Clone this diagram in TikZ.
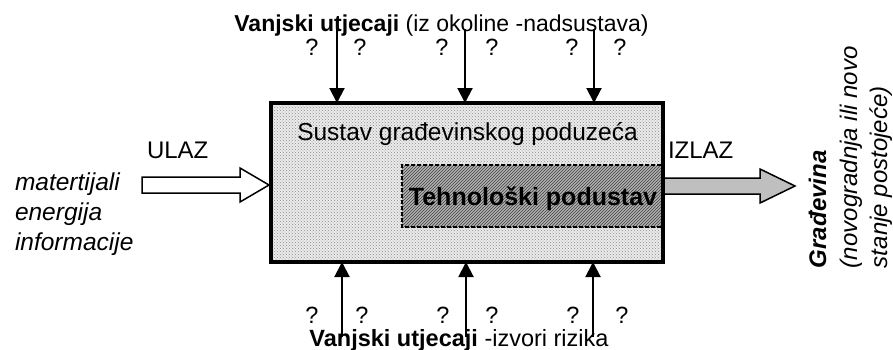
\documentclass[tikz,border=0pt]{standalone}
\usepackage{fontspec}
\setmainfont{Liberation Sans}
\usetikzlibrary{arrows.meta,patterns,calc}
\begin{document}
\begin{tikzpicture}[x=1pt,y=1pt,
  txt/.style={font=\fontsize{23.5}{28}\selectfont, inner sep=0pt, outer sep=0pt},
  qm/.style={txt, anchor=base},
  infl/.style={line width=2pt, -{Triangle[length=15pt,width=15pt]}},
  mainbox/.style={fill=black!8, postaction={pattern=crosshatch dots, pattern color=black!45},
    inner sep=0pt, outer sep=0pt},
  subbox/.style={fill=black!30, postaction={pattern=north east lines, pattern color=black!75},
    inner sep=0pt, outer sep=0pt},
  border/.style={line width=4pt},
  dashborder/.style={line width=1.5pt, dash pattern=on 4pt off 2pt},
  hollowarrow/.style={line width=1.5pt, fill=white, line join=miter},
  grayarrow/.style={line width=1.5pt, fill=black!25, line join=miter},
  inlist/.style={txt, font=\fontsize{24.5}{29}\selectfont\itshape, anchor=base west},
  outtxt/.style={txt, font=\fontsize{24}{29}\selectfont\itshape, anchor=base west, rotate=90}
]
\useasboundingbox (0,0) rectangle (893,-349);

% main system box and technological subsystem
\node[mainbox, minimum width=392pt, minimum height=159pt] (sys) at (467,-182.5) {};
\node[subbox, minimum width=259pt, minimum height=62pt] (sub) at (531.5,-196) {};
\draw[dashborder] (sub.north east) -- (sub.north west) -- (sub.south west) -- (sub.south east);

% output arrow (gray)
\coordinate (outS) at (663,-186);
\draw[grayarrow] ($(outS)+(0,8)$) -- ++(97,0) -- ++(0,9) -- (795,-186) -- (760,-203) -- ++(0,9) -- ($(outS)+(0,-8)$) -- cycle;

\draw[border] (sys.south west) rectangle (sys.north east);

% input arrow (hollow)
\coordinate (inS) at (142,-185);
\draw[hollowarrow] ($(inS)+(0,8)$) -- (240,-177) -- (240,-168) -- (269,-185) -- (240,-202) -- (240,-193) -- ($(inS)+(0,-8)$) -- cycle;

% texts
\node[txt, font=\fontsize{23}{28}\selectfont, anchor=base] (ttop) at (441.5,-31.5) {\textbf{Vanjski utjecaji} (iz okoline -nadsustava)};
\node[txt, anchor=base] (tbot) at (459,-346) {\textbf{Vanjski utjecaji} -izvori rizika};
\node[txt, font=\fontsize{24.5}{29}\selectfont, anchor=base] (sustav) at (467.5,-140) {Sustav građevinskog poduzeća};
\node[txt, font=\fontsize{25}{30}\selectfont\bfseries, anchor=base] (tech) at (533,-205) {Tehnološki podustav};
\node[txt, font=\fontsize{24}{29}\selectfont, anchor=base west] (ulaz) at (147,-158) {ULAZ};
\node[txt, font=\fontsize{24}{29}\selectfont, anchor=base west] (izlaz) at (668,-158) {IZLAZ};
\node[inlist] (in1) at (15,-190) {matertijali};
\node[inlist] (in2) at (15,-220) {energija};
\node[inlist] (in3) at (15,-250) {informacije};
\node[outtxt, font=\fontsize{24}{29}\selectfont\bfseries\itshape] (out1) at (826,-268) {Građevina};
\node[outtxt] (out2) at (857,-268) {(novogradnja ili novo};
\node[outtxt] (out3) at (887,-268) {stanje postojeće)};

% question marks
\foreach \x [count=\i] in {312,360,442,492,572,620} {
  \node[qm] (qt\i) at (\x,-55) {?};
}
\foreach \x [count=\i] in {312,362,443,492,573,622} {
  \node[qm] (qb\i) at (\x,-323) {?};
}

% influence arrows
\coordinate (ta1) at (337,-29);
\coordinate (ta2) at (465,-29);
\coordinate (ta3) at (594,-29);
\coordinate (ba1) at (342,-337);
\coordinate (ba2) at (466,-337);
\coordinate (ba3) at (593,-337);
\foreach \c in {ta1,ta2,ta3} { \draw[infl] (\c) -- (\c |- sys.north); }
\foreach \c in {ba1,ba2,ba3} { \draw[infl] (\c) -- (\c |- sys.south); }
\end{tikzpicture}
\end{document}
